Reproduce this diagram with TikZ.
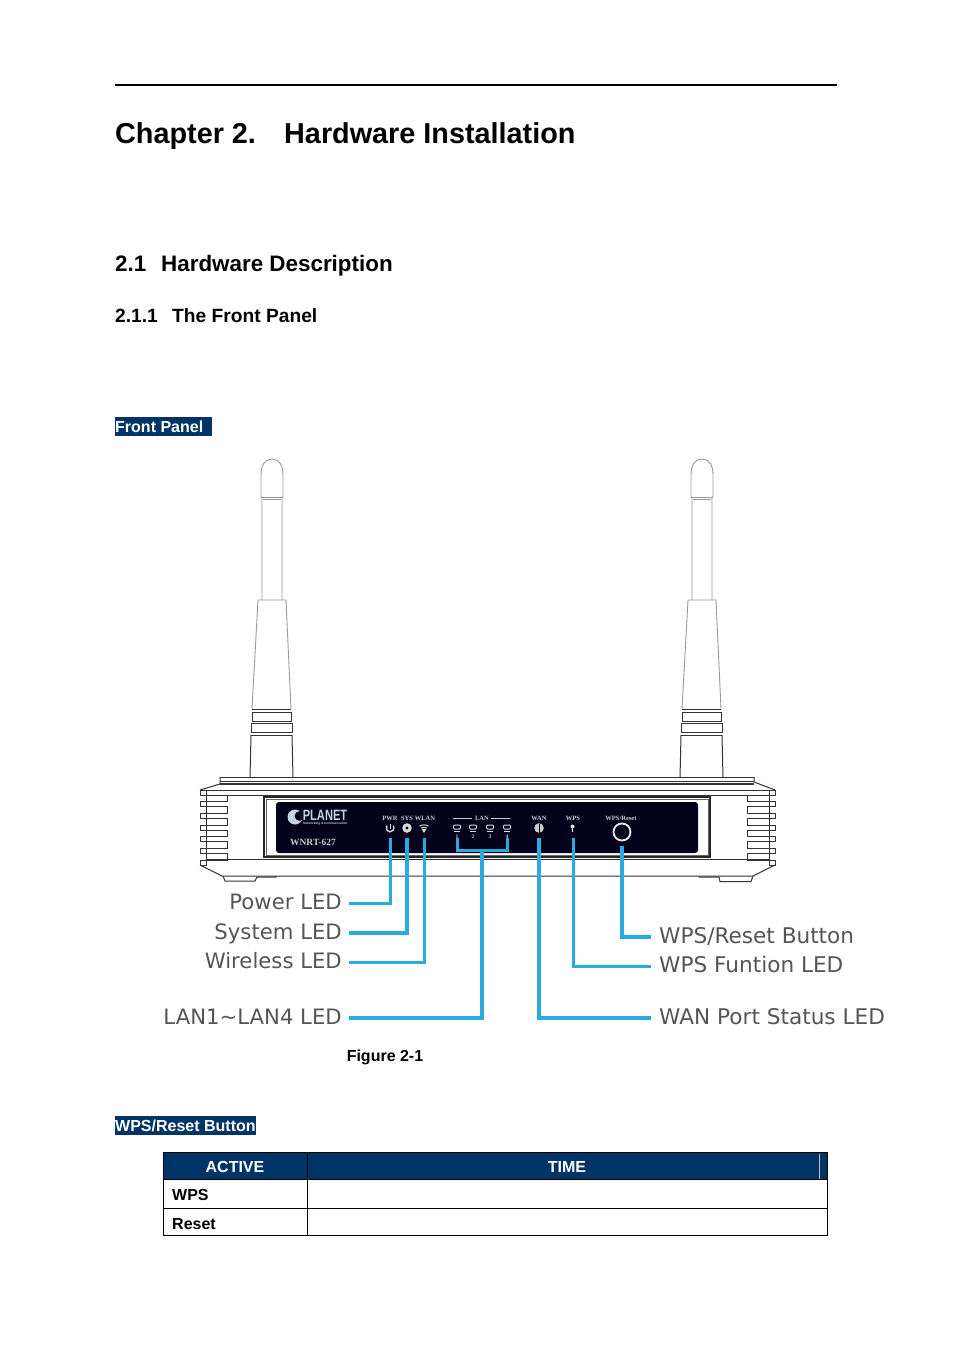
\documentclass[tikz,border=0pt]{standalone}
\usepackage{fontspec}
\setmainfont{Liberation Sans}
\newfontfamily\calloutfont{DejaVu Sans}
\newfontfamily\panelfont{Liberation Serif}
\usetikzlibrary{scopes}
\definecolor{navyband}{HTML}{003366}
\definecolor{leadblue}{HTML}{29ABE2}
\definecolor{paneldark}{HTML}{02021A}
\definecolor{calloutgray}{HTML}{555555}
\definecolor{logoblue}{HTML}{C4D4EA}
\tikzset{
  heading/.style={anchor=base west,inner sep=0pt,font=\bfseries\fontsize{#1}{#1}\selectfont},
  callout/.style={font=\calloutfont\fontsize{#1}{#1}\selectfont,text=calloutgray,
    text height=15pt,text depth=3pt,inner ysep=0pt,inner xsep=7pt},
  lead/.style={draw=leadblue,line width=3pt},
  heavylead/.style={draw=leadblue,line width=3.6pt},
  ledspot/.style={circle,minimum size=20pt,inner sep=0pt,outer sep=0pt},
  paneltext/.style={font=\panelfont\bfseries\fontsize{#1}{#1}\selectfont,text=white!80!black,inner sep=0pt},
  bandlabel/.style={anchor=base west,inner sep=0pt,text=white,font=\bfseries\fontsize{16}{16}\selectfont},
  cellhead/.style={text=white,inner sep=0pt,font=\bfseries\fontsize{16}{16}\selectfont},
  cellrow/.style={anchor=base west,inner sep=0pt,font=\bfseries\fontsize{16}{16}\selectfont},
  antennaline/.style={draw=black!40,line width=.9pt},
  bodyline/.style={draw=black!80,line width=1pt}
}
\begin{document}
\begin{tikzpicture}[x=1pt,y=-1pt]
  \useasboundingbox (0,0) rectangle (954,1350);
  \fill[white] (0,0) rectangle (954,1350);
  \draw[line width=2pt] (115,85) -- (837,85);
  \node [heading=28.8] (chaptitle) at (115,143.5) {Chapter 2.};
  \node [heading=28.8] (hwtitle) at (284,143.5) {Hardware Installation};
  \node [heading=22.4] (secnum) at (115,271) {2.1};
  \node [heading=22.4] (sectitle) at (161,271) {Hardware Description};
  \node [heading=19.2] (subnum) at (115,322) {2.1.1};
  \node [heading=19.2] (subtitle) at (172,322) {The Front Panel};
  \fill[navyband] (115,417) rectangle (212,436);
  \node [bandlabel] (frontband) at (115,432) {Front Panel};
  % antennas
  \foreach \dx in {0,430} {
    \begin{scope}[shift={(\dx,0)}]
      \draw[antennaline] (262,600) -- (262,497) -- (261,497) -- (261,475)
        .. controls (261,465) and (265,459) .. (272,459)
        .. controls (279,459) and (283,465) .. (283,475) -- (283,497) -- (282,497) -- (282,600);
      \draw[antennaline] (261,497) -- (283,497);
      \draw[antennaline] (263,499) -- (281,499);
      \draw[antennaline] (252,709) -- (258,600) -- (286,600) -- (291,709);
      \draw[bodyline] (252,709) -- (291,709);
      \draw[bodyline] (252,712) rectangle (291,721);
      \draw[bodyline] (251,723) rectangle (292,732);
      \draw[bodyline] (251,735) -- (292,735);
      \draw[bodyline] (250,778) -- (251,735);
      \draw[bodyline] (293,778) -- (292,735);
    \end{scope}
  }
  % router body
  \draw[bodyline] (220,777) -- (754,777);
  \draw[bodyline] (220,781) -- (754,781);
  \draw[bodyline,line width=1.4pt] (220,784) -- (754,784);
  \draw[bodyline] (220,777) -- (220,784) -- (200,790);
  \draw[bodyline] (754,777) -- (754,782) -- (775,790);
  \draw[bodyline] (200,790) -- (775,790);
  \draw[bodyline] (200,795) -- (775,795);
  \draw[bodyline] (206,859) -- (769,859);
  \draw[bodyline] (200,865) -- (222,876) -- (753,876) -- (775,865);
  \foreach \i in {0,1,...,6} {
    \draw[bodyline] (200,{790+11.7*\i}) rectangle (206,{795+11.7*\i});
    \draw[bodyline] (769,{790+11.7*\i}) rectangle (775,{795+11.7*\i});
  }
  \foreach \i in {0,1,...,5} {
    \draw[bodyline] (206,{795+11.7*\i}) rectangle (227,{801.7+11.7*\i});
    \draw[bodyline] (747,{795+11.7*\i}) rectangle (769,{801.7+11.7*\i});
  }
  \draw[bodyline] (223,876) -- (225,881) -- (255,881) -- (257,877) -- (276,877) -- (276,876);
  \draw[bodyline] (699,876) -- (699,877) -- (719,877) -- (720,881.5) -- (751,881.5) -- (753,876);
  % front panel
  \draw[line width=1.2pt,black!85] (264,797) rectangle (710,857);
  \draw[black!60,line width=.7pt] (266,799) rectangle (708,855);
  \fill[paneldark,rounded corners=3pt] (276,802) rectangle (698,853);
  \fill[logoblue] (295,817) circle (7.5pt);
  \fill[paneldark] (299.5,816) circle (4.8pt);
  \node [paneltext=12.5,font=\bfseries\fontsize{15}{15}\selectfont,text=logoblue,xscale=.74] (logo) at (325,815) {PLANET};
  \node [paneltext=3.4,font=\bfseries\fontsize{3.1}{3.1}\selectfont,text=logoblue] (tagline) at (325.5,823.5) {Networking \& Communication};
  \node [paneltext=9.5] (model) at (313,842) {WNRT-627};
  { [every node/.style={paneltext=6.5}]
    \node (pwrcap) at (390,818) {PWR};
    \node (syscap) at (407,818) {SYS};
    \node (wlancap) at (425,818) {WLAN};
    \node (lancap) at (482,818) {LAN};
    \node (wancap) at (539,818) {WAN};
    \node (wpscap) at (573,818) {WPS};
    \node (resetcap) at (621,818) {WPS/Reset};
  }
  \draw[white!80!black,line width=.6pt] (453,818) -- (472,818);
  \draw[white!80!black,line width=.6pt] (491,818) -- (510,818);
  { [every node/.style={ledspot}]
    \node (pwr) at (390,828) {};
    \node (sys) at (407,828) {};
    \node (wlan) at (424,828) {};
    \node (lanone) at (457,828) {};
    \node (lanfour) at (507,828) {};
    \node (wan) at (539,828) {};
    \node (wps) at (573,828) {};
  }
  % panel icons
  \draw[white!85!black,line width=1.4pt] (387,825.5) .. controls (384,834) and (396,834) .. (393.5,825.5);
  \draw[white!85!black,line width=1.3pt] (390.2,823.5) -- (390.2,829);
  \fill[white!85!black] (407,828) circle (4.8pt);
  \fill[paneldark] (407,828) circle (1.7pt);
  \draw[white!85!black,line width=1pt] (419.5,826) .. controls (422,824.5) and (426,824.5) .. (428.5,826);
  \draw[white!85!black,line width=1pt] (421,828) .. controls (423,827) and (425,827) .. (427,828);
  \fill[white!85!black] (421.5,829) -- (426.5,829) -- (424,833) -- cycle;
  \foreach \x/\n in {457/1,473/2,490/3,507/4} {
    \draw[white!85!black,line width=1pt,rounded corners=1pt] (\x-3.5,825) rectangle (\x+3.5,829);
    \draw[white!85!black,line width=1pt] (\x-3,831.5) -- (\x+3,831.5);
    \node [paneltext=5.5] (lanno\n) at (\x,836.5) {\n};
  }
  \fill[white!80!black] (539,828) circle (4.8pt);
  \draw[paneldark,line width=.4pt] (539,823.5) -- (539,832.5);
  \draw[white!90!black,line width=1.6pt] (572.5,827) -- (572.5,832);
  \fill[white!90!black] (572.5,826.5) circle (2pt);
  \node [circle,draw=white!92!black,line width=1.8pt,minimum size=17pt,inner sep=0pt,outer sep=5pt] (reset) at (622,832) {};
  % callouts
  { [every node/.style={callout=21.2,anchor=east}]
    \node (pwrlabel) at (349,903) {Power LED};
    \node (syslabel) at (349,933) {System LED};
    \node (wlanlabel) at (349,962) {Wireless LED};
    \node (lanlabel) at (349,1018) {LAN1\textasciitilde LAN4 LED};
  }
  { [every node/.style={callout=21.6,anchor=west,inner xsep=8pt}]
    \node (resetlabel) at (651,937) {WPS/Reset Button};
    \node (wpslabel) at (651,966) {WPS Funtion LED};
    \node (wanlabel) at (651,1018) {WAN Port Status LED};
  }
  \draw[lead] (pwr.south) |- (pwrlabel.east);
  \draw[heavylead] (sys.south) |- (syslabel.east);
  \draw[lead] (wlan.south) |- (wlanlabel.east);
  \draw[lead] (lanone.south) |- (507,850) -- (lanfour.south);
  \draw[heavylead] (482,850) |- (lanlabel.east);
  \draw[heavylead] (wan.south) |- (wanlabel.west);
  \draw[lead] (wps.south) |- (wpslabel.west);
  \draw[heavylead] (reset.south) |- (resetlabel.west);
  \node [anchor=base,inner sep=0pt,font=\bfseries\fontsize{16}{16}\selectfont] (figcap) at (385,1061) {Figure 2-1};
  % button table
  \fill[navyband] (115,1116) rectangle (256,1135);
  \node [bandlabel] (wpsband) at (115,1131) {WPS/Reset Button};
  \fill[navyband] (163.5,1152.5) rectangle (827.5,1180);
  \draw[white!70!navyband,line width=.7pt] (819,1154) -- (819,1179);
  \draw[line width=.9pt] (163.5,1152.5) rectangle (827.5,1235.5);
  \draw[line width=.9pt] (163.5,1179.5) -- (827.5,1179.5);
  \draw[line width=.9pt] (163.5,1208) -- (827.5,1208);
  \draw[line width=.9pt] (307,1152.5) -- (307,1235.5);
  \node [cellhead] (activehead) at (235,1167) {ACTIVE};
  \node [cellhead] (timehead) at (567,1167) {TIME};
  \node [cellrow] (wpsrow) at (172,1200) {WPS};
  \node [cellrow] (resetrow) at (172,1229) {Reset};
\end{tikzpicture}
\end{document}
